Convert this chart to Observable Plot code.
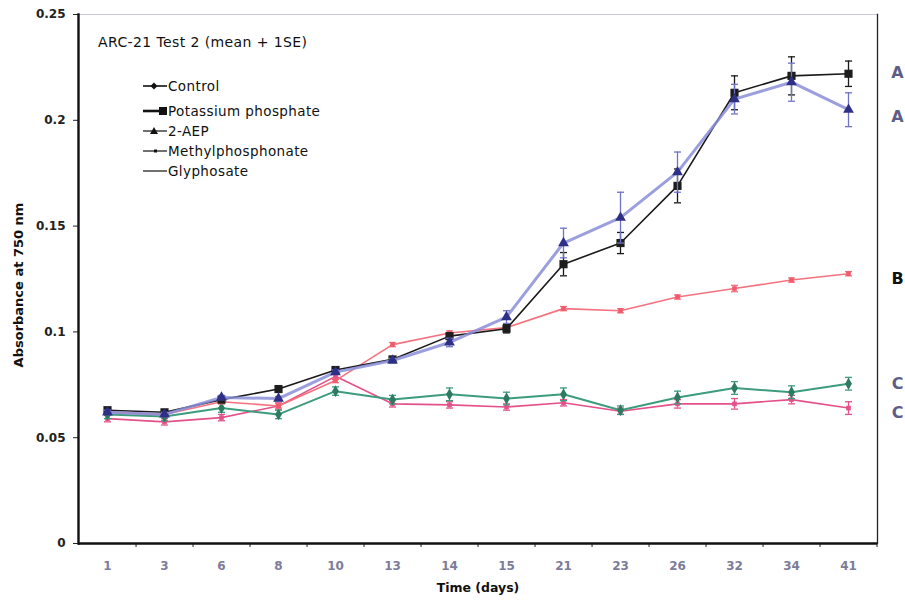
<!DOCTYPE html>
<html>
<head>
<meta charset="utf-8">
<script src="https://cdn.jsdelivr.net/npm/d3@7"></script>
<script src="https://cdn.jsdelivr.net/npm/@observablehq/plot@0.6"></script>
<style>
  html, body { margin: 0; padding: 0; background: #fff; }
  #wrap { position: relative; width: 905px; height: 601px; font-family: "DejaVu Sans", Verdana, sans-serif; }
  .ov { position: absolute; white-space: nowrap; color: #111; }
  .legrow { position: absolute; left: 143px; display: flex; align-items: center; font-size: 13.5px; letter-spacing: 0.4px; color: #111; }
</style>
</head>
<body>
<div id="wrap"></div>
<script>
// ---- data ----
const days = ["1","3","6","8","10","13","14","15","21","23","26","32","34","41"];
const seriesNames = ["Control","Potassium phosphate","2-AEP","Methylphosphonate","Glyphosate"];

const control     = [0.061,0.060,0.064,0.061,0.072,0.068,0.0705,0.0685,0.0705,0.063,0.069,0.0735,0.0715,0.0755];
const controlSE   = [0.002,0.002,0.002,0.002,0.002,0.002,0.003,0.003,0.003,0.002,0.003,0.003,0.003,0.003];
const potassium   = [0.063,0.062,0.068,0.073,0.082,0.087,0.098,0.1015,0.132,0.142,0.169,0.213,0.221,0.222];
const potassiumSE = [0.001,0.001,0.001,0.001,0.001,0.001,0.001,0.002,0.0055,0.005,0.008,0.008,0.009,0.006];
const aep         = [0.062,0.061,0.069,0.0685,0.081,0.0865,0.095,0.107,0.142,0.154,0.1755,0.210,0.218,0.205];
const aepSE       = [0.001,0.001,0.001,0.001,0.001,0.001,0.002,0.003,0.007,0.012,0.0095,0.007,0.009,0.008];
const methyl      = [0.062,0.061,0.067,0.065,0.077,0.094,0.0995,0.102,0.111,0.110,0.1165,0.1205,0.1245,0.1275];
const methylSE    = [0.001,0.001,0.001,0.001,0.001,0.001,0.001,0.001,0.001,0.001,0.001,0.0015,0.001,0.001];
const glyphosate  = [0.059,0.0575,0.0595,0.065,0.079,0.066,0.0655,0.0645,0.0665,0.0625,0.066,0.066,0.068,0.064];
const glyphosateSE= [0.0015,0.0015,0.0015,0.0015,0.0015,0.0015,0.0015,0.0015,0.0015,0.0015,0.002,0.0025,0.002,0.003];

const yTicks = [0, 0.05, 0.1, 0.15, 0.2, 0.25];
const letters = ["A","A","B","C","C"];
const letterY = [0.2225, 0.2015, 0.125, 0.0755, 0.0615];
const letterColor = ["#5d5d86","#5d5d86","#111","#5d5d86","#5d5d86"];

// ---- build table ----
function rows(name, vals, ses) {
  return days.map((d, i) => ({series: name, day: d, value: vals[i], se: ses[i]}));
}
const dControl = rows(seriesNames[0], control, controlSE);
const dPot = rows(seriesNames[1], potassium, potassiumSE);
const dAep = rows(seriesNames[2], aep, aepSE);
const dMeth = rows(seriesNames[3], methyl, methylSE);
const dGly = rows(seriesNames[4], glyphosate, glyphosateSE);
const letterData = letters.map((t, i) => ({t, y: letterY[i], c: letterColor[i]}));

// error-bar cap symbol
const cap = { draw(ctx, size) { const w = Math.sqrt(size / Math.PI); ctx.moveTo(-w, 0); ctx.lineTo(w, 0); } };

function seriesMarks(data, o) {
  return [
    Plot.ruleX(data, {x: "day", y1: d => d.value - d.se, y2: d => d.value + d.se, stroke: o.err, strokeWidth: o.errW || 1.3}),
    Plot.dot(data, {x: "day", y: d => d.value + d.se, symbol: cap, r: o.capR || 3.5, stroke: o.err, strokeWidth: o.errW || 1.3}),
    Plot.dot(data, {x: "day", y: d => d.value - d.se, symbol: cap, r: o.capR || 3.5, stroke: o.err, strokeWidth: o.errW || 1.3}),
    Plot.lineY(data, {x: "day", y: "value", stroke: o.line, strokeWidth: o.lw, strokeOpacity: o.lo || 1}),
    Plot.dot(data, {x: "day", y: "value", symbol: o.sym, r: o.r, fill: o.fill, stroke: "none"})
  ];
}

const chart = Plot.plot({
  width: 905, height: 601,
  marginLeft: 78, marginRight: 28, marginTop: 14, marginBottom: 58,
  style: {fontFamily: "DejaVu Sans, Verdana, sans-serif", fontSize: "11px", background: "white", overflow: "visible"},
  x: {type: "point", domain: days, padding: 0.5, label: null},
  y: {domain: [0, 0.25], label: null},
  marks: [
    Plot.frame({stroke: "#c9c9dd", strokeWidth: 1}),
    Plot.frame({anchor: "right", stroke: "#222", strokeWidth: 1.3}),
    Plot.axisY({ticks: yTicks, tickSize: 5, tickPadding: 8, tickFormat: d => String(+d.toFixed(2)), fontWeight: "bold", fontSize: 12, fill: "#222", stroke: "#222", label: null}),
    Plot.axisX({tickSize: 0, tickPadding: 18, fontSize: 12, fontWeight: "bold", fill: "#7c7c9a", label: null}),
    Plot.axisX({tickSize: 4, tickFormat: () => "", dx: 28.54, stroke: "#222", label: null}),
    Plot.frame({anchor: "left", stroke: "#111", strokeWidth: 2.4}),
    Plot.ruleY([0], {stroke: "#111", strokeWidth: 2.4}),
    ...seriesMarks(dGly, {line: "#e4508a", lw: 1.6, err: "#e4508a", sym: "square", r: 2.6, fill: "#e4508a"}),
    ...seriesMarks(dControl, {line: "#3d9c7c", lw: 2, err: "#3d9c7c", sym: "diamond", r: 3.6, fill: "#2c7a5f"}),
    ...seriesMarks(dMeth, {line: "#f4727f", lw: 1.6, err: "#f4727f", sym: "square", r: 2.6, fill: "#f05a6c"}),
    ...seriesMarks(dPot, {line: "#1a1a1a", lw: 1.6, err: "#1a1a1a", sym: "square", r: 4.6, fill: "#1d1d1d"}),
    ...seriesMarks(dAep, {line: "#8a8ed8", lw: 3, lo: 0.85, err: "#6f73c8", sym: "triangle", r: 4, fill: "#2e3088"}),
    Plot.text(letterData, {y: "y", text: "t", frameAnchor: "right", dx: 20, fill: "c", fontSize: 16, fontWeight: "bold", textAnchor: "middle"})
  ]
});

const wrap = document.getElementById("wrap");
wrap.appendChild(chart);

function addText(txt, css) {
  const d = document.createElement("div");
  d.className = "ov";
  d.textContent = txt;
  Object.assign(d.style, css);
  wrap.appendChild(d);
  return d;
}
addText("ARC-21 Test 2 (mean + 1SE)", {left: "98px", top: "34px", fontSize: "14px", letterSpacing: "0.4px"});
addText("Time (days)", {left: "478px", top: "580px", fontSize: "12.5px", fontWeight: "bold", transform: "translateX(-50%)"});
addText("Absorbance at 750 nm", {left: "18px", top: "285px", fontSize: "13px", fontWeight: "bold", transform: "translate(-50%,-50%) rotate(-90deg)"});

// legend (black, as in the reference)
const legendSym = {
  "Control": '<path d="M11 -3.5 L14.5 0 L11 3.5 L7.5 0Z" fill="#111"/>',
  "Potassium phosphate": '<rect x="16" y="-4" width="8" height="8" fill="#111"/>',
  "2-AEP": '<path d="M11 -4 L15 3 L7 3Z" fill="#111"/>',
  "Methylphosphonate": '<rect x="11" y="-1.5" width="3" height="3" fill="#111"/>',
  "Glyphosate": ''
};
const legendW = {"Control": 1.6, "Potassium phosphate": 2.6, "2-AEP": 1.2, "Methylphosphonate": 1.2, "Glyphosate": 1.2};
const legendTop = [87, 112, 132, 152, 172];
seriesNames.forEach((n, i) => {
  const r = document.createElement("div");
  r.className = "legrow";
  r.style.top = (legendTop[i] - 9) + "px";
  const x2 = n === "Potassium phosphate" ? 20 : 24;
  r.innerHTML = `<svg width="24" height="16" viewBox="0 -8 24 16" style="margin-right:1px"><line x1="0" x2="${x2}" y1="0" y2="0" stroke="#111" stroke-width="${legendW[n]}"/>${legendSym[n]}</svg><span>${n}</span>`;
  wrap.appendChild(r);
});
</script>
</body>
</html>
